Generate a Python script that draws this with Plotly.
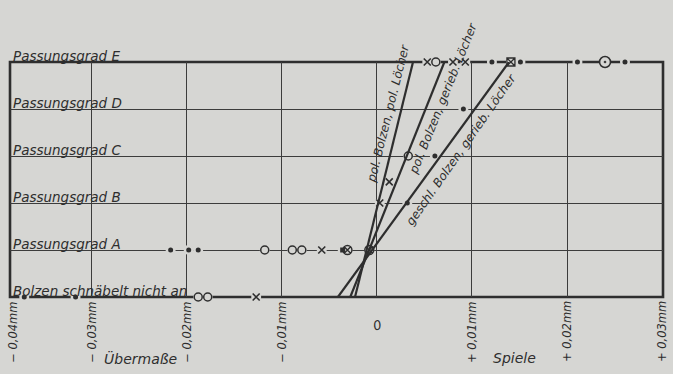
import plotly.graph_objects as go

# ---- data -------------------------------------------------------------
row_labels = ["Bolzen schnäbelt nicht an", "Passungsgrad A", "Passungsgrad B",
              "Passungsgrad C", "Passungsgrad D", "Passungsgrad E"]
row_levels = [0, 1, 2, 3, 4, 5]

dot_x = [-0.0371, -0.0317, -0.0217, -0.0198, -0.0188, 0.0032, 0.0061, 0.0091,
         0.0121, 0.0151, 0.0211, 0.0261]
dot_y = [0, 0, 1, 1, 1, 2, 3, 4, 5, 5, 5, 5]
circle_x = [-0.0188, -0.0178, -0.0118, -0.0089, -0.0079, 0.0033, 0.0062]
circle_y = [0, 0, 1, 1, 1, 3, 5]
cross_x = [-0.0127, -0.0058, 0.0003, 0.0013, 0.0053, 0.0080, 0.0093]
cross_y = [0, 1, 2, 2.45, 5, 5, 5]
square_x = [-0.0036]
square_y = [1]
circlecross_x = [-0.0031, -0.0008]
circlecross_y = [1, 1]
boxcross_x = [0.0141]
boxcross_y = [5]
target_x = [0.0240]
target_y = [5]

line_names = ["pol. Bolzen, pol. Löcher", "pol. Bolzen, gerieb. Löcher",
              "geschl. Bolzen, gerieb. Löcher"]
line_x_bottom = [-0.0023, -0.0028, -0.0041]
line_x_top = [0.0038, 0.0071, 0.0139]

tick_vals = [-0.04, -0.03, -0.02, -0.01, 0, 0.01, 0.02, 0.03]
tick_text = ["− 0,04mm", "− 0,03mm", "− 0,02mm", "− 0,01mm", "0",
             "+ 0,01mm", "+ 0,02mm", "+ 0,03mm"]
grid_x = [-0.03, -0.02, -0.01, 0, 0.01, 0.02]
grid_y = [1, 2, 3, 4]

# ---- style ------------------------------------------------------------
BG = "#d6d6d3"
INK = "#2e2e2e"
FONT = "DejaVu Sans"
X_MIN, X_MAX = -0.0386, 0.0301

fig = go.Figure()

# halos (gaps in the lines around markers)
all_x = dot_x + circle_x + cross_x + square_x + circlecross_x + boxcross_x + target_x
all_y = dot_y + circle_y + cross_y + square_y + circlecross_y + boxcross_y + target_y
fig.add_trace(go.Scatter(x=all_x, y=all_y, mode="markers", hoverinfo="skip", cliponaxis=False,
                         marker=dict(symbol="circle", size=10, color=BG, line=dict(width=0)),
                         showlegend=False))

# diagonal lines
for name, xb, xt in zip(line_names, line_x_bottom, line_x_top):
    fig.add_trace(go.Scatter(x=[xb, xt], y=[row_levels[0], row_levels[-1]], mode="lines",
                             line=dict(color=INK, width=2.2), name=name, showlegend=False))

# markers
mk = [
    (dot_x, dot_y, dict(symbol="circle", size=5, color=INK)),
    (circle_x, circle_y, dict(symbol="circle-open", size=8, color=INK, line=dict(width=1.5))),
    (cross_x, cross_y, dict(symbol="x-thin-open", size=7, color=INK, line=dict(width=1.6))),
    (square_x, square_y, dict(symbol="square", size=5, color=INK)),
    (circlecross_x, circlecross_y, dict(symbol="circle-x-open", size=9, color=INK, line=dict(width=1.4))),
    (boxcross_x, boxcross_y, dict(symbol="square-x-open", size=8, color=INK, line=dict(width=1.3))),
    (target_x, target_y, dict(symbol="circle-open-dot", size=11, color=INK, line=dict(width=1.5))),
]
for xs, ys, m in mk:
    fig.add_trace(go.Scatter(x=xs, y=ys, mode="markers", showlegend=False,
                             cliponaxis=False, marker=m))

annotations = []
# row labels
for lab, lev in zip(row_labels, row_levels):
    annotations.append(dict(x=0, xref="paper", y=lev, yref="y", text=lab, showarrow=False,
                            xanchor="left", yanchor="bottom", xshift=1, yshift=-4,
                            font=dict(family=FONT, size=13.5, color=INK, style="italic")))

# x tick labels
for v, t in zip(tick_vals, tick_text):
    xv = min(max(v, X_MIN + 0.0003), X_MAX)
    if t == "0":
        annotations.append(dict(x=xv, xref="x", y=0, yref="paper", text=t, showarrow=False,
                                xanchor="center", yanchor="middle", yshift=-28, textangle=-15,
                                font=dict(family=FONT, size=13, color=INK, style="italic")))
    else:
        annotations.append(dict(x=xv, xref="x", y=0, yref="paper", text=t, showarrow=False,
                                xanchor="center", yanchor="middle", yshift=-35, textangle=-90,
                                font=dict(family=FONT, size=11.5, color=INK, style="italic")))

annotations.append(dict(x=-0.0249, xref="x", y=0, yref="paper", text="Übermaße", showarrow=False,
                        xanchor="center", yanchor="middle", yshift=-61,
                        font=dict(family=FONT, size=14, color=INK, style="italic")))
annotations.append(dict(x=0.0145, xref="x", y=0, yref="paper", text="Spiele", showarrow=False,
                        xanchor="center", yanchor="middle", yshift=-61,
                        font=dict(family=FONT, size=14, color=INK, style="italic")))

# diagonal line labels
diag_pos = [(0.00115, 3.90, -76), (0.00700, 4.23, -68), (0.00890, 3.15, -55)]
for name, (ax, ay, ang) in zip(line_names, diag_pos):
    annotations.append(dict(x=ax, y=ay, xref="x", yref="y", text=name, showarrow=False,
                            textangle=ang, font=dict(family=FONT, size=12, color=INK, style="italic")))

fig.update_layout(
    width=673, height=374,
    margin=dict(l=10, r=10, t=62, b=77),
    paper_bgcolor=BG, plot_bgcolor=BG,
    showlegend=False,
    annotations=annotations,
    shapes=[dict(type="rect", xref="paper", yref="paper", x0=0, x1=1, y0=0, y1=1,
                 line=dict(color=INK, width=2.6), layer="below")],
    xaxis=dict(range=[X_MIN, X_MAX], tickvals=grid_x, showticklabels=False, ticks="",
               showgrid=True, gridcolor="#3c3c3c", gridwidth=1.2, zeroline=False,
               showline=False, fixedrange=True),
    yaxis=dict(range=[0, 5], tickvals=grid_y, showticklabels=False, ticks="",
               showgrid=True, gridcolor="#3c3c3c", gridwidth=1.2, zeroline=False,
               showline=False, fixedrange=True),
)

fig.write_html("out.html")
